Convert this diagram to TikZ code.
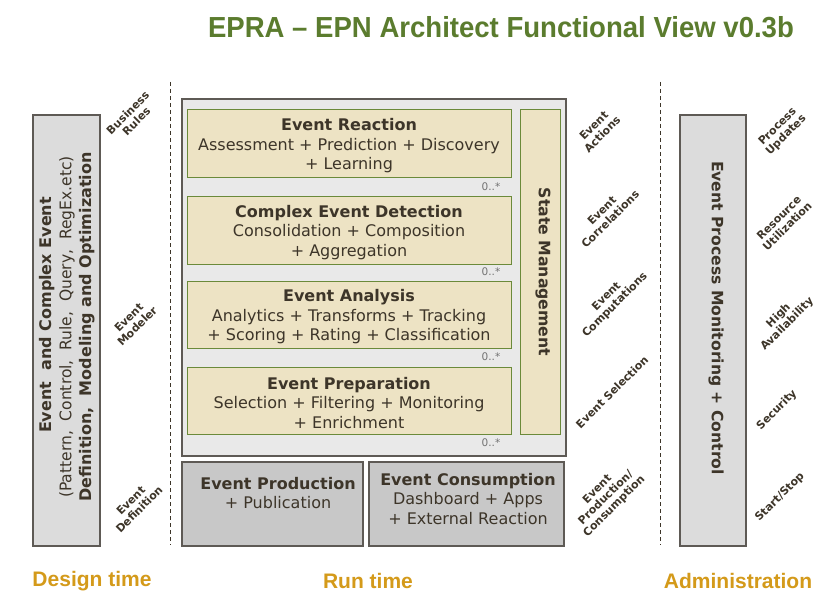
\documentclass[tikz,border=0pt]{standalone}
\usepackage{fontspec}
\setmainfont{DejaVu Sans}
\newfontfamily\titlefont{Liberation Sans}
\definecolor{txt}{HTML}{3D3529}
\definecolor{boxline}{HTML}{5E5A55}
\definecolor{ltgray}{HTML}{DCDCDC}
\definecolor{mainfill}{HTML}{E9E9E9}
\definecolor{midgray}{HTML}{C8C8C8}
\definecolor{beige}{HTML}{EDE3C4}
\definecolor{greenline}{HTML}{6B8A3A}
\definecolor{titlegreen}{HTML}{5B7C2E}
\definecolor{phaseorange}{HTML}{D49A1A}
\begin{document}
\begin{tikzpicture}[x=1pt,y=-1pt,
  graybox/.style={draw=boxline, fill=ltgray, line width=1.2pt, inner sep=0pt},
  mainbox/.style={draw=boxline, fill=mainfill, line width=1.2pt, inner sep=0pt},
  prodbox/.style={draw=boxline, fill=midgray, line width=1.2pt, inner sep=0pt},
  innerbox/.style={draw=greenline, fill=beige, line width=1pt, inner sep=0pt},
  diag/.style={rotate=45, font=\fontsize{11}{12}\selectfont\bfseries, text=txt, align=center, inner sep=0pt},
  phase/.style={font=\titlefont\bfseries\fontsize{21}{23}\selectfont, text=phaseorange},
  mult/.style={font=\fontsize{10.5}{11}\selectfont, text=black!55},
  divider/.style={dashed, line width=0.8pt, draw=txt, dash pattern=on 4pt off 3pt},
  bodytext/.style={align=center, text=txt, font=\fontsize{16}{19.5}\selectfont, inner sep=0pt}
]
\useasboundingbox (0,0) rectangle (830,599);
\fill[white] (0,0) rectangle (830,599);

% title
\node[text=titlegreen, font=\titlefont\bfseries\fontsize{29}{32}\selectfont] (title) at (501,27) {\scalebox{0.95}[1]{EPRA – EPN Architect Functional View v0.3b}};

% dashed dividers
\coordinate (dlt) at (170,82); \coordinate (dlb) at (170,545);
\coordinate (drt) at (660,82); \coordinate (drb) at (660,545);
\draw[divider] (dlt) -- (dlb);
\draw[divider] (drt) -- (drb);

% left design box
\node[graybox, minimum width=67pt, minimum height=431pt] (design) at (66.5,330.5) {};
\node[rotate=90, bodytext, font=\fontsize{16}{20}\selectfont] (designtxt) at (67,327)
  {\hspace*{24pt}\textbf{Event\ \ and Complex Event}\\\scalebox{0.97}[1]{(Pattern,\ \ Control,\ \ Rule,\ \ Query,\ \ RegEx.etc)}\\\textbf{Definition,\ \ Modeling and Optimization}};

% left diagonal labels
\node[diag] (br) at (132,117) {Business\\Rules};
\node[diag] (em) at (133,322) {Event\\Modeler};
\node[diag] (ed) at (135,505) {Event\\Definition};

% main run-time box
\node[mainbox, minimum width=384pt, minimum height=357pt] (main) at (374,277.5) {};

\node[innerbox, minimum width=324pt, minimum height=67pt] (react) at (349,143.5) {};
\node[bodytext] (reacttxt) at ([yshift=-2.5pt]react.center)
  {\textbf{Event Reaction}\\Assessment + Prediction + Discovery\\+ Learning};
\node[innerbox, minimum width=324pt, minimum height=68pt] (ced) at (349,230) {};
\node[bodytext] (cedtxt) at ([yshift=-2.5pt]ced.center)
  {\textbf{Complex Event Detection}\\Consolidation + Composition\\+ Aggregation};
\node[innerbox, minimum width=324pt, minimum height=67pt] (analysis) at (349,314.5) {};
\node[bodytext] (analysistxt) at ([yshift=-2.5pt]analysis.center)
  {\textbf{Event Analysis}\\Analytics + Transforms + Tracking\\+ Scoring + Rating + Classification};
\node[innerbox, minimum width=324pt, minimum height=67pt] (prep) at (349,400.5) {};
\node[bodytext] (preptxt) at ([yshift=-2.5pt]prep.center)
  {\textbf{Event Preparation}\\Selection + Filtering + Monitoring\\+ Enrichment};

\node[mult] (m1) at (491,187) {0..*};
\node[mult] (m2) at (491,272) {0..*};
\node[mult] (m3) at (491,357) {0..*};
\node[mult] (m4) at (491,443) {0..*};

\node[innerbox, minimum width=40pt, minimum height=324pt] (state) at (540,272) {};
\node[rotate=-90, bodytext, font=\fontsize{15.7}{17}\selectfont\bfseries] (statetxt) at (543,272) {State Management};

% production / consumption
\node[prodbox, minimum width=181pt, minimum height=84pt] (prod) at (272.5,504) {};
\node[bodytext, anchor=north] (prodtxt) at (278,477) {\textbf{Event Production}\\+ Publication};
\node[prodbox, minimum width=195pt, minimum height=84pt] (cons) at (466.5,504) {};
\node[bodytext, anchor=north] (constxt) at (468,473) {\textbf{Event Consumption}\\Dashboard + Apps\\+ External Reaction};

% right-of-runtime diagonal labels
\node[diag] (ea) at (598,130) {Event\\Actions};
\node[diag] (ecor) at (606,215) {Event\\Correlations};
\node[diag] (ecomp) at (611,301) {Event\\Computations};
\node[diag] (esel) at (612,392) {Event Selection};
\node[diag] (epc) at (606,498) {Event\\Production/\\Consumption};

% administration box
\node[graybox, minimum width=66pt, minimum height=431pt] (admin) at (713,330.5) {};
\node[rotate=-90, bodytext, font=\fontsize{15.6}{17}\selectfont\bfseries] (admintxt) at (716,318) {Event Process Monitoring + Control};

% right diagonal labels
\node[diag] (pu) at (782,131) {Process\\Updates};
\node[diag] (ru) at (783,222) {Resource\\Utilization};
\node[diag] (ha) at (783,320) {High\\Availability};
\node[diag] (sec) at (777,410) {Security};
\node[diag] (ss) at (780,497) {Start/Stop};

% phase labels
\node[phase] (design-l) at (92,581) {Design time};
\node[phase] (run-l) at (368,581) {Run time};
\node[phase] (admin-l) at (738,581) {Administration};
\end{tikzpicture}
\end{document}
